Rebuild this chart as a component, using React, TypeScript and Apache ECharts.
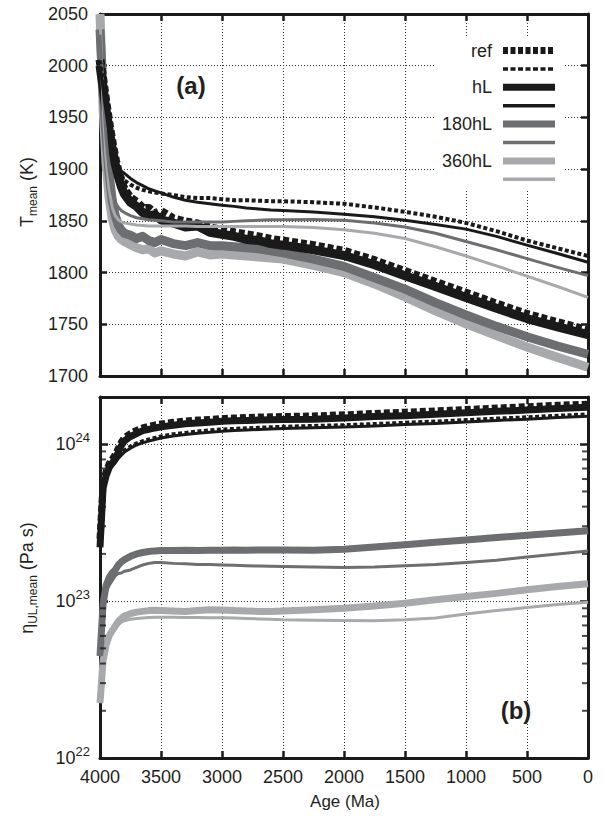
import React, { useEffect, useRef } from "react";
import * as echarts from "echarts";

// ---------------- data ----------------
const ages = [4000, 3975, 3950, 3925, 3900, 3875, 3850, 3825, 3800, 3750, 3700, 3650, 3600, 3550, 3500, 3400, 3300, 3200, 3100, 3000, 2900, 2800, 2700, 2600, 2500, 2250, 2000, 1750, 1500, 1250, 1000, 750, 500, 250, 0];

// panel (a): mean temperature (K)
const refThickT = [2006, 1985, 1963, 1943, 1925, 1909, 1897, 1887, 1880, 1872, 1868, 1862, 1862, 1857, 1859, 1852, 1849, 1847, 1843, 1841, 1838.5, 1836.5, 1834.5, 1832, 1830.5, 1826, 1820.5, 1811.5, 1801, 1790.5, 1780, 1769.5, 1759.5, 1751.5, 1744];
const hLThickT = [2000, 1979, 1957, 1938, 1920, 1905, 1893, 1883, 1876, 1868, 1864, 1858, 1855, 1856, 1851, 1848, 1844, 1845, 1839, 1837, 1835, 1832, 1831, 1828, 1826.5, 1822, 1816.5, 1807.5, 1797, 1786.5, 1776, 1765.5, 1755.5, 1747.5, 1740];
const h180ThickT = [2035, 1975, 1930, 1895, 1870, 1855, 1846, 1841, 1838, 1836, 1833, 1835, 1831, 1829, 1832, 1828, 1826, 1829, 1826, 1826, 1825, 1824, 1823, 1821, 1819, 1813, 1806, 1795, 1784, 1771, 1759, 1748, 1738, 1729, 1721];
const h360ThickT = [2050, 1960, 1905, 1872, 1852, 1841, 1835, 1832, 1830, 1827, 1824, 1822, 1823, 1819, 1821, 1818, 1816, 1820, 1817, 1818, 1817, 1816, 1815, 1814, 1813, 1807, 1800, 1789, 1776.5, 1763, 1750.5, 1739, 1728, 1718, 1708.5];
const refThinT = [2005, 1985, 1962, 1942, 1925, 1910, 1900, 1894, 1889, 1885, 1882, 1880, 1878.5, 1877.5, 1876.5, 1875, 1873, 1872, 1872, 1871, 1870, 1870, 1869.5, 1869, 1869, 1868, 1866.5, 1863, 1858.7, 1854, 1848, 1840, 1831, 1823.5, 1816];
const hLThinT = [2000, 1978, 1955, 1935, 1918, 1907, 1900, 1898, 1896, 1891, 1887, 1884, 1881, 1879, 1877, 1873, 1870, 1868, 1866.5, 1865, 1864, 1862.5, 1861.5, 1860.5, 1860, 1858.5, 1856.5, 1854, 1850.5, 1846.5, 1842, 1835, 1826.5, 1818.5, 1810];
const h180ThinT = [2030, 1975, 1930, 1898, 1878, 1868, 1863, 1860, 1858, 1855, 1853, 1852, 1851, 1850.5, 1850, 1849, 1849, 1849, 1849, 1849, 1849.5, 1850, 1850.5, 1851, 1851, 1851.3, 1850.5, 1848, 1844, 1838, 1830, 1822, 1813.5, 1805, 1797];
const h360ThinT = [2050, 1960, 1910, 1880, 1863, 1855, 1851, 1849, 1848, 1847, 1846, 1845.5, 1845, 1845, 1845, 1845, 1845, 1844.5, 1844.5, 1844.5, 1844.5, 1844.5, 1844.5, 1844.5, 1844.5, 1843.5, 1841.5, 1838, 1833, 1825, 1816, 1806.5, 1796.5, 1786.5, 1776];

// panel (b): mean upper-layer viscosity (Pa s)
const refThickEta = [2.5e23, 5.6e23, 6.7e23, 7.5e23, 8.0e23, 8.6e23, 9.4e23, 1.03e24, 1.1e24, 1.17e24, 1.225e24, 1.27e24, 1.3e24, 1.325e24, 1.345e24, 1.38e24, 1.405e24, 1.425e24, 1.44e24, 1.455e24, 1.47e24, 1.48e24, 1.49e24, 1.495e24, 1.5e24, 1.515e24, 1.54e24, 1.57e24, 1.6e24, 1.63e24, 1.665e24, 1.7e24, 1.735e24, 1.77e24, 1.8e24];
const hLThickEta = [2.2e23, 5.25e23, 6.3e23, 7.1e23, 7.6e23, 8.1e23, 8.9e23, 9.8e23, 1.05e24, 1.12e24, 1.17e24, 1.22e24, 1.245e24, 1.27e24, 1.29e24, 1.32e24, 1.35e24, 1.365e24, 1.38e24, 1.4e24, 1.41e24, 1.418e24, 1.425e24, 1.43e24, 1.435e24, 1.445e24, 1.47e24, 1.5e24, 1.52e24, 1.55e24, 1.585e24, 1.62e24, 1.65e24, 1.69e24, 1.72e24];
const h180ThickEta = [4.47e22, 9.55e22, 1.26e23, 1.41e23, 1.51e23, 1.58e23, 1.7e23, 1.78e23, 1.84e23, 1.93e23, 2.0e23, 2.04e23, 2.07e23, 2.09e23, 2.1e23, 2.1e23, 2.11e23, 2.1e23, 2.11e23, 2.11e23, 2.12e23, 2.11e23, 2.12e23, 2.12e23, 2.12e23, 2.11e23, 2.14e23, 2.21e23, 2.29e23, 2.37e23, 2.45e23, 2.54e23, 2.63e23, 2.72e23, 2.81e23];
const h360ThickEta = [2.24e22, 4.17e22, 5.25e22, 6.03e22, 6.46e22, 6.92e22, 7.41e22, 7.76e22, 8.04e22, 8.32e22, 8.51e22, 8.6e22, 8.7e22, 8.75e22, 8.71e22, 8.65e22, 8.6e22, 8.7e22, 8.8e22, 8.79e22, 8.7e22, 8.65e22, 8.6e22, 8.6e22, 8.65e22, 8.8e22, 9.0e22, 9.3e22, 9.7e22, 1.02e23, 1.07e23, 1.12e23, 1.18e23, 1.24e23, 1.29e23];
const refThinEta = [2.6e23, 5.2e23, 6.25e23, 7.0e23, 7.5e23, 7.85e23, 8.4e23, 8.8e23, 9.2e23, 9.75e23, 1.02e24, 1.055e24, 1.08e24, 1.105e24, 1.13e24, 1.165e24, 1.19e24, 1.215e24, 1.235e24, 1.25e24, 1.262e24, 1.272e24, 1.283e24, 1.292e24, 1.3e24, 1.318e24, 1.332e24, 1.355e24, 1.38e24, 1.405e24, 1.435e24, 1.468e24, 1.495e24, 1.53e24, 1.56e24];
const hLThinEta = [2.51e23, 5.01e23, 6.03e23, 6.76e23, 7.24e23, 7.59e23, 8.13e23, 8.51e23, 8.91e23, 9.44e23, 9.89e23, 1.023e24, 1.047e24, 1.072e24, 1.096e24, 1.127e24, 1.153e24, 1.175e24, 1.194e24, 1.211e24, 1.222e24, 1.23e24, 1.242e24, 1.25e24, 1.259e24, 1.274e24, 1.288e24, 1.309e24, 1.334e24, 1.358e24, 1.387e24, 1.419e24, 1.445e24, 1.479e24, 1.507e24];
const h180ThinEta = [4.47e22, 8.9e22, 1.15e23, 1.26e23, 1.35e23, 1.45e23, 1.5e23, 1.51e23, 1.55e23, 1.58e23, 1.64e23, 1.7e23, 1.74e23, 1.76e23, 1.76e23, 1.74e23, 1.73e23, 1.71e23, 1.71e23, 1.7e23, 1.69e23, 1.68e23, 1.675e23, 1.67e23, 1.66e23, 1.65e23, 1.64e23, 1.65e23, 1.68e23, 1.71e23, 1.76e23, 1.82e23, 1.91e23, 2.0e23, 2.09e23];
const h360ThinEta = [2.24e22, 3.98e22, 5.0e22, 5.75e22, 6.3e22, 6.76e22, 7.08e22, 7.33e22, 7.5e22, 7.67e22, 7.75e22, 7.8e22, 7.85e22, 7.88e22, 7.89e22, 7.88e22, 7.85e22, 7.85e22, 7.83e22, 7.82e22, 7.8e22, 7.75e22, 7.7e22, 7.67e22, 7.6e22, 7.55e22, 7.52e22, 7.5e22, 7.6e22, 7.8e22, 8.28e22, 8.7e22, 9.1e22, 9.5e22, 9.82e22];

const legendNames = ["ref", "hL", "180hL", "360hL"];
const etaMinorTicks = [2e22, 3e22, 4e22, 5e22, 6e22, 7e22, 8e22, 9e22, 2e23, 3e23, 4e23, 5e23, 6e23, 7e23, 8e23, 9e23];

// ---------------- styling ----------------
const FONT = "'Liberation Sans', Arial, Helvetica, sans-serif";
const INK = "#231f20";
const BLACK = "#1a1a1a";
const DGRAY = "#6d6e71";
const LGRAY = "#a7a9ac";

const GRID_L = 100;
const GRID_W = 488;

const pairs = (vals: number[]) => ages.map((a, i) => [a, vals[i]]);
const plain = (v: number) => String(v);

function xAxisCfg(gridIndex: number, position: "top" | "bottom", labels: boolean) {
  return {
    type: "value",
    gridIndex,
    position,
    min: 0,
    max: 4000,
    interval: 500,
    inverse: true,
    axisLine: { show: true, onZero: false, lineStyle: { color: BLACK, width: 3 } },
    axisTick: { show: true, inside: true, length: 7, lineStyle: { color: BLACK, width: 2.5 } },
    axisLabel: { show: labels, color: INK, fontFamily: FONT, fontSize: 18, margin: 10, formatter: plain },
    splitLine: { show: position === "bottom", lineStyle: { color: "#333", width: 1, type: [1, 2] } },
  };
}

function line(name: string, xi: number, yi: number, vals: number[], color: string, width: number, dash?: number[]) {
  return {
    name,
    type: "line",
    xAxisIndex: xi,
    yAxisIndex: yi,
    data: pairs(vals),
    showSymbol: false,
    symbol: "none",
    silent: true,
    lineStyle: { color, width, type: dash ? dash : "solid", cap: "butt", join: "round" },
  };
}

function minorTicks(age: number, dx: number) {
  return {
    type: "scatter",
    xAxisIndex: 2,
    yAxisIndex: 2,
    silent: true,
    clip: false,
    z: 5,
    symbol: "rect",
    symbolSize: [6, 2],
    symbolOffset: [dx, 0],
    itemStyle: { color: BLACK },
    data: etaMinorTicks.map((v) => [age, v]),
  };
}

export default function App() {
  const ref = useRef<HTMLDivElement>(null);
  useEffect(() => {
    if (!ref.current) return;
    const chart = echarts.init(ref.current, undefined, { renderer: "svg" });

    const sup = (v: number) => {
      const lg = Math.log10(v);
      if (Math.abs(lg - Math.round(lg)) > 1e-6) return "";
      return `{b|10}{s|${Math.round(lg)}}`;
    };

    const legendY0 = 50.5;
    const legendStep = 18.4;
    const legendColors = [BLACK, BLACK, DGRAY, LGRAY];
    const legendGraphics: any[] = [];
    legendNames.forEach((nm, k) => {
      const yThick = legendY0 + legendStep * 2 * k;
      const yThin = yThick + legendStep;
      const dashed = k === 0;
      legendGraphics.push({
        type: "text",
        x: 492,
        y: yThick,
        z: 20,
        style: { text: nm, fill: INK, font: `18px ${FONT}`, align: "right", verticalAlign: "middle" },
      });
      legendGraphics.push({
        type: "line",
        z: 20,
        shape: { x1: 503, y1: yThick, x2: 555, y2: yThick },
        style: { stroke: legendColors[k], lineWidth: 7, lineDash: dashed ? [5, 2.5] : null, lineCap: "butt" },
      });
      legendGraphics.push({
        type: "line",
        z: 20,
        shape: { x1: 503, y1: yThin, x2: 555, y2: yThin },
        style: { stroke: legendColors[k], lineWidth: 3.5, lineDash: dashed ? [5, 2.5] : null, lineCap: "butt" },
      });
    });

    const option: any = {
      animation: false,
      backgroundColor: "#ffffff",
      grid: [
        { left: GRID_L, top: 14, width: GRID_W, height: 362 },
        { left: GRID_L, top: 397, width: GRID_W, height: 361 },
      ],
      xAxis: [
        xAxisCfg(0, "bottom", false),
        xAxisCfg(0, "top", false),
        xAxisCfg(1, "bottom", true),
        xAxisCfg(1, "top", false),
      ],
      yAxis: [
        {
          type: "value",
          gridIndex: 0,
          position: "left",
          min: 1700,
          max: 2050,
          interval: 50,
          axisLine: { show: true, onZero: false, lineStyle: { color: BLACK, width: 3 } },
          axisTick: { show: true, inside: true, length: 7, lineStyle: { color: BLACK, width: 2.5 } },
          axisLabel: { color: INK, fontFamily: FONT, fontSize: 18, margin: 12, formatter: plain },
          splitLine: { show: true, lineStyle: { color: "#333", width: 1, type: [1, 2] } },
        },
        {
          type: "value",
          gridIndex: 0,
          position: "right",
          min: 1700,
          max: 2050,
          interval: 50,
          axisLine: { show: true, onZero: false, lineStyle: { color: BLACK, width: 3 } },
          axisTick: { show: true, inside: true, length: 7, lineStyle: { color: BLACK, width: 2.5 } },
          axisLabel: { show: false },
          splitLine: { show: false },
        },
        {
          type: "log",
          logBase: 10,
          gridIndex: 1,
          position: "left",
          min: 1e22,
          max: 2e24,
          axisLine: { show: true, onZero: false, lineStyle: { color: BLACK, width: 3 } },
          axisTick: { show: true, inside: true, length: 8, lineStyle: { color: BLACK, width: 2.5 } },
          axisLabel: {
            color: INK,
            fontFamily: FONT,
            fontSize: 18,
            margin: 10,
            formatter: sup,
            rich: {
              b: { fontSize: 18, fontFamily: FONT, color: INK, lineHeight: 26 },
              s: { fontSize: 13, fontFamily: FONT, color: INK, lineHeight: 14, verticalAlign: "top" },
            },
          },
          splitLine: { show: true, lineStyle: { color: "#333", width: 1, type: [1, 2] } },
        },
        {
          type: "log",
          logBase: 10,
          gridIndex: 1,
          position: "right",
          min: 1e22,
          max: 2e24,
          axisLine: { show: true, onZero: false, lineStyle: { color: BLACK, width: 3 } },
          axisTick: { show: true, inside: true, length: 8, lineStyle: { color: BLACK, width: 2.5 } },
          axisLabel: { show: false },
          splitLine: { show: false },
        },
      ],
      series: [
        line("360hL thick", 0, 0, h360ThickT, LGRAY, 9),
        line("180hL thick", 0, 0, h180ThickT, DGRAY, 9),
        line("hL thick", 0, 0, hLThickT, BLACK, 9),
        line("ref thick", 0, 0, refThickT, BLACK, 9, [6, 3]),
        line("360hL thin", 0, 0, h360ThinT, LGRAY, 3),
        line("180hL thin", 0, 0, h180ThinT, DGRAY, 3),
        line("hL thin", 0, 0, hLThinT, BLACK, 3),
        line("ref thin", 0, 0, refThinT, BLACK, 4, [4, 2.5]),

        line("360hL thick", 2, 2, h360ThickEta, LGRAY, 7),
        line("180hL thick", 2, 2, h180ThickEta, DGRAY, 7),
        line("hL thick", 2, 2, hLThickEta, BLACK, 7),
        line("ref thick", 2, 2, refThickEta, BLACK, 7, [6, 3]),
        line("360hL thin", 2, 2, h360ThinEta, LGRAY, 3),
        line("180hL thin", 2, 2, h180ThinEta, DGRAY, 3),
        line("hL thin", 2, 2, hLThinEta, BLACK, 3),
        line("ref thin", 2, 2, refThinEta, BLACK, 3, [4, 2.5]),

        minorTicks(4000, 3),
        minorTicks(0, -3),
      ],
      graphic: [
        { type: "rect", z: 1, shape: { x: 436, y: 38, width: 127, height: 152 }, style: { fill: "#ffffff" } },
        ...legendGraphics,
        {
          type: "text",
          x: 191,
          y: 85,
          z: 20,
          style: { text: "(a)", fill: INK, font: `bold 24px ${FONT}`, align: "center", verticalAlign: "middle" },
        },
        {
          type: "text",
          x: 516,
          y: 710,
          z: 20,
          style: { text: "(b)", fill: INK, font: `bold 24px ${FONT}`, align: "center", verticalAlign: "middle" },
        },
        {
          type: "text",
          x: 345,
          y: 801,
          z: 20,
          style: { text: "Age (Ma)", fill: INK, font: `17px ${FONT}`, align: "center", verticalAlign: "middle" },
        },
        {
          type: "text",
          x: 27,
          y: 192,
          z: 20,
          rotation: Math.PI / 2,
          style: {
            text: "{m|T}{s|mean}{m| (K)}",
            align: "center",
            verticalAlign: "middle",
            rich: {
              m: { fontSize: 18, fontFamily: FONT, fill: INK, color: INK, lineHeight: 24 },
              s: { fontSize: 12, fontFamily: FONT, fill: INK, color: INK, lineHeight: 12, verticalAlign: "bottom" },
            },
          },
        },
        {
          type: "text",
          x: 27,
          y: 578,
          z: 20,
          rotation: Math.PI / 2,
          style: {
            text: "{m|η}{s|UL,mean}{m| (Pa s)}",
            align: "center",
            verticalAlign: "middle",
            rich: {
              m: { fontSize: 18, fontFamily: FONT, fill: INK, color: INK, lineHeight: 24 },
              s: { fontSize: 12, fontFamily: FONT, fill: INK, color: INK, lineHeight: 12, verticalAlign: "bottom" },
            },
          },
        },
      ],
    };

    chart.setOption(option);
    return () => chart.dispose();
  }, []);

  return (
    <div
      ref={ref}
      style={{ position: "fixed", left: 0, top: 0, width: 603, height: 816, background: "#fff" }}
    />
  );
}
